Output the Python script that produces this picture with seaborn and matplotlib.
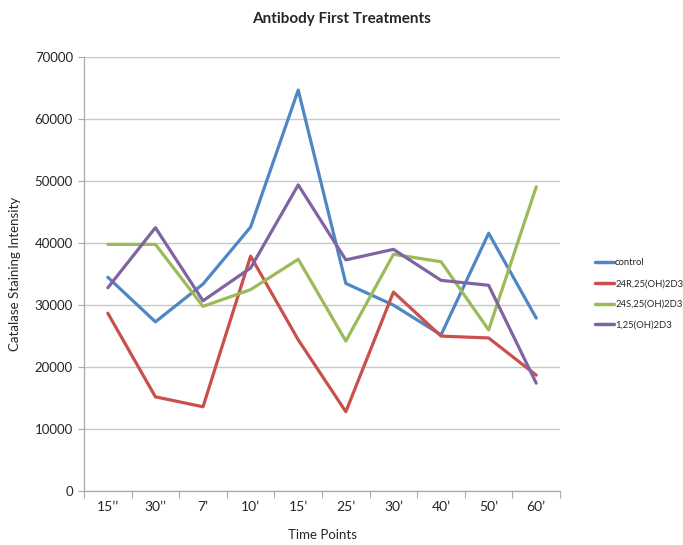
import matplotlib
matplotlib.use('Agg')
import matplotlib.pyplot as plt
import seaborn as sns
import pandas as pd
import numpy as np
from matplotlib.ticker import FixedLocator

time_points = ["15\u2019\u2019", "30\u2019\u2019", "7\u2019", "10\u2019", "15\u2019",
               "25\u2019", "30\u2019", "40\u2019", "50\u2019", "60\u2019"]
control = [34500, 27300, 33400, 42600, 64700, 33500, 30000, 25200, 41600, 27900]
r24 = [28700, 15200, 13600, 37900, 24400, 12800, 32100, 25000, 24700, 18700]
s24 = [39800, 39800, 29800, 32500, 37400, 24200, 38200, 37000, 26000, 49100]
d125 = [32800, 42500, 30700, 36000, 49400, 37300, 39000, 34000, 33200, 17400]

series_names = ["control", "24R,25(OH)2D3", "24S,25(OH)2D3", "1,25(OH)2D3"]
series_values = [control, r24, s24, d125]
colors = ["#4F87C4", "#C9504D", "#9BBB59", "#8064A2"]

rows = []
for name, vals in zip(series_names, series_values):
    for i, (tp, v) in enumerate(zip(time_points, vals)):
        rows.append({"idx": i, "time": tp, "value": v, "series": name})
df = pd.DataFrame(rows)

sns.set_theme(style="white")
plt.rcParams['font.family'] = ['Lato', 'DejaVu Sans']

fig = plt.figure(figsize=(6.83, 5.45), dpi=100)
ax = fig.add_axes([0.123, 0.099, 0.697, 0.796])

sns.lineplot(data=df, x="idx", y="value", hue="series", hue_order=series_names,
             palette=colors, linewidth=2.3, sort=False, ax=ax)

ax.set_xlim(-0.5, len(time_points) - 0.5)
ax.set_ylim(0, 70000)
ax.set_yticks(np.arange(0, 70001, 10000))
ax.set_yticklabels([str(v) for v in range(0, 70001, 10000)], fontsize=9.5)
ax.set_xticks(range(len(time_points)))
ax.set_xticklabels(time_points, fontsize=10)
ax.tick_params(axis='x', which='major', length=0, pad=7)
ax.xaxis.set_minor_locator(FixedLocator(np.arange(-0.5, len(time_points), 1.0)))
ax.tick_params(axis='x', which='minor', length=5, color='#aaaaaa', width=0.8, bottom=True)
ax.tick_params(axis='y', length=4, color='#aaaaaa', width=0.8, left=True, pad=4)

ax.grid(axis='y', color='#c8c8c8', linewidth=1.0)
ax.set_axisbelow(True)
for s in ['top', 'right']:
    ax.spines[s].set_visible(False)
for s in ['left', 'bottom']:
    ax.spines[s].set_color('#aaaaaa')
    ax.spines[s].set_linewidth(0.9)

ax.set_xlabel("Time Points", fontsize=9.5, labelpad=12)
ax.set_ylabel("Catalase Staining Intensity", fontsize=9.5, labelpad=10)
fig.suptitle("Antibody First Treatments", fontsize=11, fontweight='bold', y=0.978)

leg = ax.legend(loc='center left', bbox_to_anchor=(1.055, 0.454), frameon=False,
                fontsize=6.8, handlelength=2.0, handletextpad=0.15, labelspacing=1.25)
for line in leg.get_lines():
    line.set_linewidth(2.5)

fig.savefig("out.png", dpi=100)
